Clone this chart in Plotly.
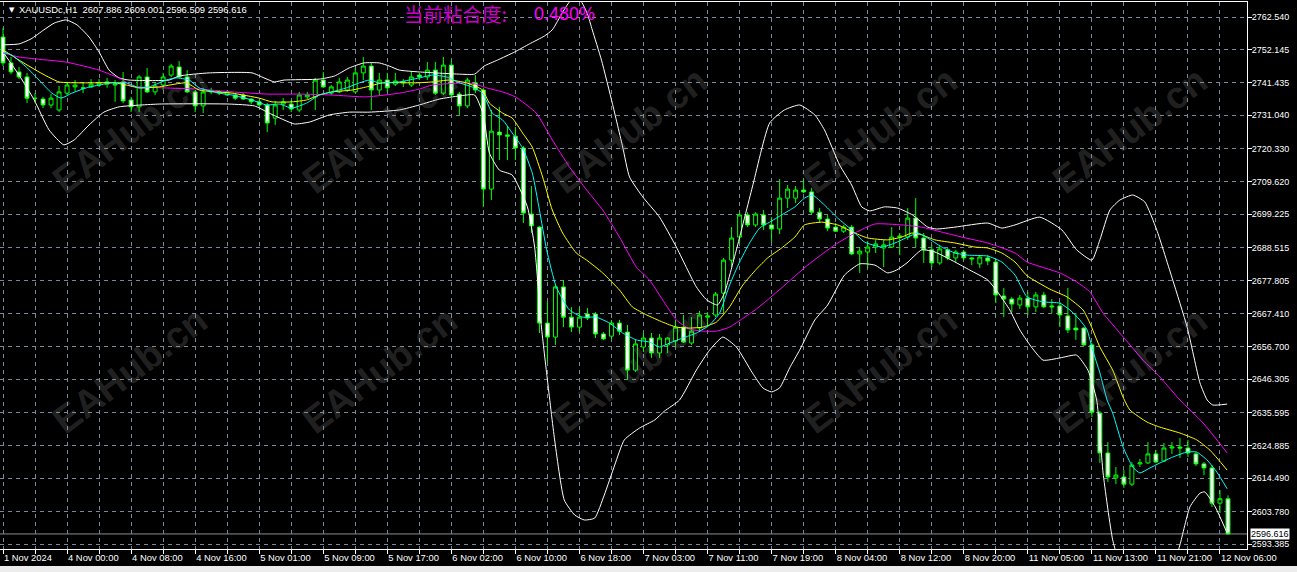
import plotly.graph_objects as go

# ---------------- data ----------------
x_labels = ["1 Nov 2024", "4 Nov 00:00", "4 Nov 08:00", "4 Nov 16:00", "5 Nov 01:00", "5 Nov 09:00",
            "5 Nov 17:00", "6 Nov 02:00", "6 Nov 10:00", "6 Nov 18:00", "7 Nov 03:00", "7 Nov 11:00",
            "7 Nov 19:00", "8 Nov 04:00", "8 Nov 12:00", "8 Nov 20:00", "11 Nov 05:00", "11 Nov 13:00",
            "11 Nov 21:00", "12 Nov 06:00"]

y_ticks = [2762.540, 2752.145, 2741.435, 2731.040, 2720.330, 2709.620, 2699.225, 2688.515, 2677.805,
           2667.410, 2656.700, 2646.305, 2635.595, 2624.885, 2614.490, 2603.780, 2593.385]

opens = [2756.1, 2747.8, 2744.9, 2743.3, 2736.5, 2736.2, 2734.3, 2732.7, 2738.1, 2740.1,
         2739.8, 2740.1, 2740.7, 2741.0, 2740.7, 2741.7, 2735.9, 2733.7, 2743.3, 2738.5,
         2740.7, 2743.9, 2746.5, 2743.3, 2738.5, 2734.0, 2738.5, 2738.1, 2737.5, 2737.5,
         2737.5, 2736.2, 2735.3, 2734.3, 2730.1, 2734.6, 2734.6, 2732.7, 2736.9, 2736.9,
         2742.3, 2738.1, 2738.5, 2739.1, 2738.5, 2744.6, 2746.8, 2739.1, 2742.3, 2741.0,
         2741.4, 2740.7, 2743.9, 2743.3, 2745.5, 2738.1, 2747.1, 2737.8, 2734.0, 2741.4,
         2739.1, 2707.3, 2725.6, 2724.7, 2724.3, 2720.5, 2699.3, 2695.1, 2664.3, 2659.8,
         2675.9, 2666.2, 2663.0, 2667.2, 2667.2, 2660.8, 2660.1, 2664.3, 2661.4, 2649.2,
         2656.6, 2659.5, 2654.7, 2657.3, 2658.5, 2663.0, 2657.9, 2662.7, 2666.2, 2666.9,
         2673.9, 2684.5, 2691.9, 2699.0, 2695.8, 2699.0, 2695.8, 2694.5, 2704.4, 2704.4,
         2707.0, 2706.4, 2699.9, 2697.7, 2695.1, 2693.8, 2695.1, 2686.5, 2687.1, 2688.7,
         2688.4, 2688.7, 2691.9, 2691.9, 2698.0, 2691.6, 2687.8, 2683.6, 2687.8, 2685.2,
         2687.1, 2685.2, 2683.3, 2685.2, 2683.9, 2673.0, 2672.0, 2670.1, 2672.3, 2669.5,
         2673.3, 2669.8, 2669.8, 2666.6, 2662.7, 2662.7, 2657.3, 2635.4, 2622.6, 2614.6,
         2614.9, 2612.6, 2619.1, 2619.4, 2622.3, 2620.0, 2624.2, 2624.5, 2624.2, 2622.3,
         2619.1, 2617.8, 2606.5, 2607.886]

highs = [2759.0, 2749.7, 2746.5, 2744.6, 2738.1, 2736.9, 2737.8, 2740.4, 2741.7, 2742.3,
         2741.4, 2742.6, 2742.6, 2743.0, 2742.3, 2744.9, 2736.9, 2743.9, 2746.2, 2741.7,
         2744.6, 2747.5, 2748.4, 2745.5, 2739.1, 2739.8, 2739.8, 2739.1, 2739.1, 2738.1,
         2738.1, 2736.5, 2735.9, 2734.9, 2735.6, 2736.5, 2735.9, 2738.5, 2738.5, 2743.0,
         2744.9, 2740.7, 2743.0, 2743.3, 2746.2, 2749.7, 2747.8, 2744.6, 2744.6, 2744.6,
         2742.6, 2744.9, 2744.6, 2748.1, 2748.1, 2749.7, 2748.7, 2738.5, 2743.0, 2743.9,
         2739.8, 2732.7, 2733.7, 2727.6, 2727.2, 2721.1, 2708.3, 2695.5, 2671.1, 2676.5,
         2678.1, 2669.4, 2669.4, 2669.1, 2667.8, 2661.4, 2665.3, 2665.3, 2663.7, 2658.9,
         2661.1, 2661.1, 2660.8, 2659.8, 2665.3, 2666.9, 2666.2, 2668.2, 2667.8, 2674.3,
         2685.2, 2695.1, 2699.9, 2699.9, 2699.9, 2700.6, 2698.3, 2710.5, 2708.6, 2708.3,
         2710.5, 2707.7, 2701.2, 2699.0, 2696.4, 2695.8, 2695.8, 2688.7, 2690.6, 2691.0,
         2691.0, 2695.1, 2693.2, 2701.2, 2704.4, 2693.2, 2689.4, 2689.4, 2688.4, 2687.8,
         2687.8, 2685.5, 2686.1, 2686.1, 2684.5, 2675.6, 2672.7, 2673.3, 2674.3, 2674.3,
         2674.3, 2672.0, 2671.1, 2675.6, 2667.5, 2663.0, 2657.9, 2636.1, 2626.1, 2618.1,
         2617.1, 2619.7, 2620.7, 2626.1, 2623.5, 2625.8, 2626.1, 2627.4, 2626.8, 2622.9,
         2619.7, 2618.7, 2610.7, 2609.001]

lows = [2746.8, 2744.2, 2742.6, 2734.9, 2734.9, 2733.3, 2733.3, 2732.0, 2737.5, 2738.5,
        2738.1, 2739.8, 2740.1, 2739.8, 2735.3, 2734.9, 2732.0, 2732.0, 2738.1, 2737.5,
        2739.1, 2743.3, 2743.0, 2738.1, 2732.0, 2731.7, 2737.8, 2737.5, 2737.2, 2735.9,
        2735.9, 2734.6, 2733.7, 2725.6, 2727.9, 2732.7, 2732.0, 2732.0, 2736.2, 2732.7,
        2739.8, 2737.5, 2738.1, 2738.5, 2738.1, 2742.3, 2732.7, 2737.5, 2738.5, 2740.4,
        2740.1, 2740.1, 2742.3, 2742.3, 2737.5, 2737.5, 2736.9, 2731.1, 2733.3, 2738.1,
        2701.6, 2703.8, 2716.6, 2716.6, 2716.6, 2696.4, 2693.2, 2661.1, 2651.8, 2657.3,
        2663.0, 2661.4, 2661.4, 2665.3, 2659.5, 2658.9, 2659.2, 2660.5, 2646.0, 2648.6,
        2655.0, 2653.1, 2653.1, 2654.7, 2656.6, 2657.9, 2657.3, 2661.4, 2663.0, 2666.2,
        2667.5, 2682.3, 2690.0, 2695.1, 2695.1, 2694.2, 2690.3, 2692.9, 2701.2, 2702.8,
        2706.0, 2699.3, 2696.4, 2693.8, 2693.5, 2693.2, 2686.1, 2680.4, 2682.0, 2686.8,
        2682.3, 2688.4, 2686.1, 2691.0, 2688.7, 2683.6, 2682.3, 2683.0, 2684.5, 2683.9,
        2684.5, 2682.9, 2682.0, 2682.9, 2670.7, 2666.2, 2667.8, 2668.8, 2666.9, 2667.8,
        2669.1, 2667.5, 2663.0, 2661.1, 2658.9, 2656.9, 2634.1, 2619.4, 2613.3, 2612.6,
        2611.4, 2612.0, 2618.1, 2619.1, 2619.4, 2619.7, 2622.3, 2621.0, 2621.3, 2618.4,
        2615.5, 2605.3, 2603.3, 2596.509]

closes = [2747.8, 2744.9, 2743.3, 2736.5, 2736.4, 2734.3, 2736.5, 2738.5, 2740.7, 2740.7,
          2739.7, 2741.0, 2741.4, 2741.7, 2741.0, 2735.6, 2733.7, 2743.3, 2738.5, 2740.4,
          2743.3, 2746.8, 2743.3, 2738.5, 2734.0, 2738.5, 2738.8, 2738.5, 2738.5, 2736.5,
          2736.2, 2735.3, 2734.3, 2728.5, 2734.3, 2735.3, 2733.0, 2737.5, 2737.5, 2742.3,
          2740.1, 2740.1, 2741.7, 2742.3, 2744.6, 2746.8, 2739.1, 2742.3, 2739.8, 2742.0,
          2741.7, 2743.3, 2743.3, 2745.5, 2738.1, 2747.1, 2737.5, 2734.0, 2742.3, 2739.1,
          2707.3, 2725.9, 2724.7, 2724.3, 2720.5, 2699.6, 2695.5, 2664.3, 2659.8, 2675.9,
          2666.2, 2663.0, 2666.2, 2665.9, 2660.8, 2659.2, 2664.3, 2661.7, 2649.2, 2657.6,
          2659.5, 2654.7, 2659.5, 2659.5, 2663.0, 2658.2, 2661.7, 2666.9, 2666.6, 2673.6,
          2684.5, 2691.6, 2699.0, 2695.8, 2699.3, 2695.8, 2694.5, 2704.4, 2707.3, 2707.0,
          2706.4, 2699.9, 2697.7, 2694.8, 2693.8, 2695.1, 2686.5, 2687.4, 2688.7, 2689.7,
          2689.4, 2691.9, 2692.2, 2698.0, 2691.6, 2687.8, 2683.6, 2688.1, 2685.2, 2687.1,
          2685.2, 2684.9, 2685.5, 2684.2, 2673.3, 2672.0, 2670.4, 2672.3, 2669.5, 2673.3,
          2669.5, 2669.5, 2666.9, 2662.1, 2662.1, 2657.3, 2635.7, 2622.6, 2614.9, 2615.5,
          2612.6, 2618.7, 2619.4, 2622.3, 2619.7, 2624.2, 2624.5, 2624.2, 2622.6, 2619.1,
          2617.8, 2606.5, 2607.9, 2596.616]

last_price = 2596.616

# indicator lines (bar position, price)
cyan_pos = [0, 1.1, 2.9, 4.5, 6.1, 7.25, 8.6, 10.4, 12, 13.6, 15.4, 17, 18.25, 20.4, 21.6, 23.25, 24.5, 27,
            28.6, 31.1, 32.9, 34.5, 36.1, 37.9, 39.5, 41.1, 42.9, 44.5, 45.75, 47, 49.5, 52, 53.6, 55.4,
            57, 58.6, 59.9, 61.1, 62.4, 63.6, 64.9, 66.1, 67, 67.9, 69.1, 70.75, 72.4, 74.1, 75.75,
            77.4, 79.1, 80.75, 82, 83.25, 84.9, 86.6, 88.25, 89.5, 90.75, 92, 93.25, 94.5, 95.75,
            97.25, 98.9, 100.1, 101.1, 102.6, 104.25, 106, 107.6, 109.75, 111.4, 113, 114.25, 115.5,
            117.25, 118.9, 120.5, 123, 124.75, 126.4, 127.9, 129.9, 132, 133.25, 134.5, 135.4, 136.1,
            137, 137.9, 138.6, 139.9, 141.1, 142, 143.25, 144.5, 146.1, 147.9, 149.1, 150.4, 151.6, 152.9]
cyan_val = [2751.3, 2750.3, 2746.5, 2742.3, 2738.1, 2736.5, 2738.1, 2739.8, 2740.7, 2741.4, 2741.4, 2739.8,
            2740.1, 2742.3, 2743.0, 2742.3, 2739.8, 2738.1, 2737.5, 2735.9, 2734.3, 2734.6, 2733.3, 2734.9,
            2737.5, 2738.5, 2739.8, 2741.4, 2742.3, 2741.4, 2741.7, 2743.0, 2743.9, 2743.3, 2741.4, 2740.1,
            2738.1, 2731.7, 2729.5, 2725.3, 2720.5, 2712.5, 2700.6, 2687.8, 2675.9, 2668.5, 2666.2, 2666.2,
            2664.3, 2661.1, 2658.9, 2658.2, 2656.6, 2657.9, 2659.5, 2661.1, 2663.7, 2667.5, 2676.5, 2683.9,
            2690.0, 2694.8, 2696.7, 2699.0, 2701.6, 2704.4, 2705.4, 2702.2, 2698.0, 2694.2, 2690.3, 2688.7,
            2690.0, 2691.9, 2693.2, 2691.6, 2688.7, 2686.8, 2686.1, 2685.8, 2683.9, 2679.7, 2672.7, 2671.1,
            2670.7, 2668.5, 2665.3, 2662.1, 2655.6, 2648.3, 2639.6, 2635.4, 2624.5, 2618.1, 2616.2, 2617.8,
            2619.4, 2621.3, 2622.9, 2622.9, 2620.3, 2616.5, 2611.1]

yellow_pos = [0, 2, 4.5, 7, 10, 14, 15.4, 17, 19.5, 22.9, 24.5, 28.6, 32, 33.6, 36.1, 37.9, 39.5, 41.1, 43.6,
              45.4, 47.4, 51.6, 53.6, 55.75, 57.9, 59.9, 60.75, 62.4, 63.6, 64.9, 66.1, 67.4, 68.6, 69.9,
              71.6, 72.9, 74.9, 77, 78.6, 80.4, 82.4, 84.1, 85.75, 87.4, 89.1, 90.75, 92.4, 94.1, 95.5,
              97.25, 98.9, 100.1, 102.25, 104.25, 106.4, 108, 110.5, 112.25, 113.5, 114.75, 116.4, 118.9,
              121.4, 123, 124.75, 126.4, 127.9, 130.75, 132.9, 134.9, 135.75, 137, 138.6, 139.9, 140.75,
              142.9, 144.5, 147, 149.1, 150.75, 152.9]
yellow_val = [2752.0, 2748.7, 2744.9, 2741.7, 2741.4, 2741.4, 2740.7, 2739.8, 2740.1, 2741.4, 2739.1, 2738.1,
              2736.5, 2735.3, 2735.3, 2735.9, 2737.5, 2738.5, 2739.1, 2740.1, 2741.4, 2741.4, 2741.7, 2742.3,
              2741.4, 2739.1, 2734.9, 2731.7, 2730.1, 2725.3, 2720.8, 2711.2, 2700.6, 2693.2, 2686.8, 2684.5,
              2680.4, 2674.9, 2669.5, 2666.9, 2664.6, 2663.0, 2662.7, 2663.0, 2664.6, 2669.5, 2676.5, 2681.6,
              2685.2, 2688.4, 2691.9, 2695.8, 2696.7, 2695.8, 2693.2, 2691.6, 2691.0, 2691.9, 2693.2, 2692.6,
              2691.0, 2690.0, 2688.7, 2688.4, 2686.8, 2683.9, 2679.5, 2675.2, 2672.7, 2668.5, 2664.3, 2656.6,
              2649.2, 2640.5, 2636.4, 2632.5, 2630.9, 2629.0, 2626.8, 2623.5, 2617.1]

magenta_pos = [0, 2, 8, 12, 15, 16, 20, 24.5, 28.6, 33, 37, 41, 45.4, 49.5, 52, 53.6, 58, 59, 60.4, 62.4, 64,
               66.6, 68.6, 70.75, 72.9, 74.9, 77, 79.1, 80.75, 82.4, 84.1, 85.75, 87.4, 89.1, 90.75, 92.4,
               94.1, 95.75, 97.25, 100.5, 103.9, 106.4, 108.9, 112.25, 114.75, 117.25, 119.75, 123, 126.4,
               127.9, 132, 134.1, 135.75, 137.4, 139.5, 142.4, 144.5, 147, 149.9, 152.9]
magenta_val = [2751.0, 2749.7, 2748.0, 2745.5, 2742.3, 2740.4, 2739.8, 2739.4, 2738.5, 2737.8, 2737.8, 2737.5,
               2736.9, 2738.1, 2739.4, 2740.7, 2741.4, 2741.0, 2739.8, 2738.5, 2736.9, 2731.7, 2723.1, 2714.4,
               2707.0, 2700.6, 2691.9, 2682.3, 2678.1, 2671.7, 2665.3, 2662.4, 2661.7, 2661.7, 2663.0, 2665.8,
               2668.8, 2672.3, 2675.6, 2682.9, 2689.4, 2693.2, 2696.1, 2695.8, 2695.1, 2693.5, 2691.9, 2690.0,
               2686.8, 2683.9, 2680.4, 2677.5, 2674.3, 2667.5, 2661.1, 2652.4, 2647.0, 2639.6, 2632.2, 2622.6]

upper_pos = [0, 2, 3.5, 5.1, 6.4, 7.9, 9.25, 10.75, 12, 13.25, 14.5, 15.75, 20.75, 22, 25.75, 31.1, 32.6, 33.9,
             35.1, 39.5, 41.4, 43.25, 45.1, 47, 48.25, 49.5, 52, 57, 58.9, 60.1, 61.75, 63.9, 65.75, 67.6,
             68.6, 69.9, 70.75, 71.5, 72.25, 73, 73.6, 74.75, 76.1, 77.4, 78.25, 79.9, 82, 84.1, 86.6, 87.9,
             89.25, 90.1, 91.6, 93.6, 95.75, 97.6, 99.5, 101.4, 102.6, 104.5, 106, 107.25, 108.25, 110.1,
             111.75, 113.6, 115.5, 116.6, 118.9, 123, 124.75, 126.4, 129.5, 132.25, 134.1, 136, 137, 138.25,
             139.5, 141.1, 142.6, 144.1, 146.1, 147.9, 149.5, 150.4, 151.1, 152.9]
upper_val = [2753.6, 2753.9, 2755.5, 2758.4, 2760.6, 2761.6, 2760.0, 2756.1, 2751.3, 2745.5, 2743.0, 2742.3,
             2742.3, 2743.6, 2744.6, 2744.6, 2743.0, 2741.7, 2742.3, 2742.6, 2743.6, 2746.2, 2747.8, 2747.8,
             2746.8, 2745.5, 2744.9, 2744.2, 2744.2, 2746.8, 2748.7, 2751.3, 2753.9, 2756.4, 2758.4, 2764.1,
             2767.4, 2769.0, 2767.4, 2763.5, 2758.4, 2748.7, 2734.9, 2720.8, 2711.2, 2704.8, 2698.3, 2688.7,
             2675.9, 2671.7, 2670.1, 2673.9, 2687.8, 2708.0, 2728.5, 2732.7, 2734.3, 2731.1, 2726.3, 2715.0,
             2708.6, 2701.6, 2700.3, 2701.6, 2701.2, 2699.0, 2695.1, 2694.5, 2695.1, 2696.4, 2694.8, 2695.8,
             2698.3, 2694.2, 2687.8, 2684.5, 2691.0, 2700.6, 2703.8, 2705.4, 2703.2, 2694.2, 2678.1, 2663.0,
             2645.1, 2639.6, 2638.0, 2638.3]

lower_pos = [0, 2, 3.9, 5.75, 7.6, 8.9, 10.75, 12.6, 14.5, 19.5, 28.25, 31.4, 33.25, 35.1, 36.4, 38.25, 40.75,
             43.25, 45.75, 49.5, 52, 54.5, 57, 58.9, 60, 60.75, 62, 63.6, 65.5, 66.4, 67.25, 68, 68.9, 70.1,
             71.4, 72.6, 73.9, 75.1, 76.4, 77.6, 79.5, 81.4, 82.6, 84.5, 86.6, 88.25, 89.9, 91.6, 93.6, 94.9,
             96, 97, 98.25, 99.5, 101.4, 103, 105.1, 107, 108.9, 110.5, 111.6, 112.9, 114.75, 116.4, 118.9,
             120.75, 123, 124.5, 125.75, 127, 128.25, 129.9, 132, 134.1, 135.5, 136.6, 137.4, 138.6, 140.1,
             142, 144.5, 146, 147, 148.25, 149.5, 150.1, 151.4, 152.9]
lower_val = [2751.3, 2743.9, 2735.9, 2726.3, 2721.5, 2723.1, 2727.9, 2732.0, 2733.7, 2734.6, 2734.6, 2734.0,
             2731.7, 2729.5, 2728.2, 2728.8, 2731.1, 2732.0, 2732.0, 2732.7, 2734.3, 2736.2, 2737.2, 2737.5,
             2731.1, 2718.9, 2713.4, 2711.8, 2701.6, 2688.7, 2663.0, 2646.0, 2626.8, 2607.5, 2602.7, 2601.1,
             2601.7, 2609.1, 2618.7, 2626.8, 2630.6, 2633.2, 2636.0, 2639.6, 2649.2, 2655.6, 2659.8, 2656.6,
             2648.3, 2643.5, 2642.2, 2643.5, 2649.9, 2655.6, 2665.3, 2670.1, 2679.7, 2683.3, 2682.9, 2680.4,
             2681.3, 2683.6, 2687.8, 2687.1, 2683.9, 2681.3, 2678.1, 2673.3, 2668.5, 2662.1, 2657.3, 2652.4,
             2653.1, 2654.0, 2649.2, 2639.6, 2616.2, 2594.7, 2581.8, 2575.4, 2577.0, 2585.0, 2593.1, 2605.3,
             2609.7, 2610.1, 2605.3, 2596.9]

header_text = "XAUUSDc,H1  2607.886 2609.001 2596.509 2596.616"
title_label = "当前粘合度:"
title_value = "0.480%"
watermark = "EAHub.cn"

# ---------------- layout helpers (pixels -> paper) ----------------
W, H = 1297, 572
ML, MR, MT, MB = 0, 50, 2, 23
PW, PH = W - ML - MR, H - MT - MB


def px(x):
    return (x - ML) / PW


def py(y):
    return 1 - (y - MT) / PH


GRID = "#778899"
TICKFONT = dict(family="Liberation Sans, Arial, sans-serif", size=9, color="white")

bars = list(range(len(opens)))

fig = go.Figure()
fig.add_trace(go.Candlestick(
    x=bars, open=opens, high=highs, low=lows, close=closes,
    increasing=dict(line=dict(color="#00FF00", width=1), fillcolor="#000000"),
    decreasing=dict(line=dict(color="#00FF00", width=1), fillcolor="#FFFFFF"),
    whiskerwidth=0, showlegend=False, hoverinfo="skip"))

for pos, val, col in [(upper_pos, upper_val, "#FFFFFF"), (lower_pos, lower_val, "#FFFFFF"),
                      (magenta_pos, magenta_val, "#FF00FF"), (yellow_pos, yellow_val, "#FFFF00"),
                      (cyan_pos, cyan_val, "#00FFFF")]:
    fig.add_trace(go.Scatter(x=pos, y=val, mode="lines",
                             line=dict(color=col, width=1, shape="spline", smoothing=0.5),
                             showlegend=False, hoverinfo="skip"))

tick_pos = list(range(0, len(opens), 4))
tick_txt = [x_labels[p // 8] if p % 8 == 0 and p // 8 < len(x_labels) else "" for p in tick_pos]

fig.update_xaxes(range=[-0.375, 155.375], tickmode="array", tickvals=tick_pos, ticktext=tick_txt,
                 showgrid=True, gridcolor=GRID, gridwidth=1, griddash="4px,4px",
                 ticks="outside", ticklen=4, tickcolor="white", tickwidth=1, tickangle=0,
                 tickfont=dict(family="Liberation Sans, Arial, sans-serif", size=9.4, color="white"),
                 ticklabelposition="outside right", automargin=False,
                 showline=True, linecolor="white", linewidth=1, mirror=True, zeroline=False,
                 rangeslider=dict(visible=False), fixedrange=True)

fig.update_yaxes(side="right", range=[2591.781, 2767.355], tickmode="array", tickvals=y_ticks,
                 ticktext=[f"{v:.3f}" for v in y_ticks], automargin=False,
                 showgrid=True, gridcolor=GRID, gridwidth=1, griddash="4px,4px",
                 ticks="outside", ticklen=4, tickcolor="white", tickwidth=1, tickfont=TICKFONT,
                 ticklabelstandoff=-2,
                 showline=True, linecolor="white", linewidth=1, zeroline=False, fixedrange=True)

shapes = [
    dict(type="line", xref="paper", yref="y", x0=0, x1=1, y0=last_price, y1=last_price,
         line=dict(color="#8c8c8c", width=1), layer="below"),
    dict(type="rect", xref="paper", yref="paper", x0=0, x1=W / PW, y0=py(566), y1=py(573),
         fillcolor="#ececec", line=dict(width=0), layer="above"),
]

annotations = []
for cy in (130, 370):
    for cx in (130, 380, 630, 880, 1130):
        annotations.append(dict(text="<b>" + watermark + "</b>", xref="paper", yref="paper",
                                x=px(cx), y=py(cy), showarrow=False, textangle=-37,
                                font=dict(family="Liberation Sans, Arial, sans-serif", size=38,
                                          color="rgba(150,150,150,0.24)"),
                                xanchor="center", yanchor="middle"))

annotations += [
    dict(text="▼", xref="paper", yref="paper", x=px(7), y=py(10), xanchor="left", yanchor="middle",
         showarrow=False, font=dict(family="DejaVu Sans", size=7, color="white")),
    dict(text=header_text, xref="paper", yref="paper", x=px(17), y=py(10), xanchor="left",
         yanchor="middle", showarrow=False,
         font=dict(family="Liberation Sans, Arial, sans-serif", size=9.4, color="white")),
    dict(text=title_label, xref="paper", yref="paper", x=px(402), y=py(14), xanchor="left",
         yanchor="middle", showarrow=False,
         font=dict(family="Noto Sans CJK SC", size=19.5, color="#C800C8")),
    dict(text=title_value, xref="paper", yref="paper", x=px(532), y=py(14), xanchor="left",
         yanchor="middle", showarrow=False,
         font=dict(family="Liberation Sans, Arial, sans-serif", size=18, color="#FF00FF")),
    dict(text=f"{last_price:.3f}", xref="paper", yref="y", x=px(1250), y=last_price, xanchor="left",
         yanchor="middle", showarrow=False, bgcolor="white", borderpad=0,
         font=dict(family="Liberation Sans, Arial, sans-serif", size=9, color="black")),
]

fig.update_layout(width=W, height=H, margin=dict(l=ML, r=MR, t=MT, b=MB, pad=0, autoexpand=False),
                  paper_bgcolor="black", plot_bgcolor="black", showlegend=False,
                  shapes=shapes, annotations=annotations, hovermode=False)

fig.write_html("out.html", config={"displayModeBar": False},
               post_script="document.body.style.margin='0';document.body.style.padding='0';"
                           "document.body.style.overflow='hidden';")
